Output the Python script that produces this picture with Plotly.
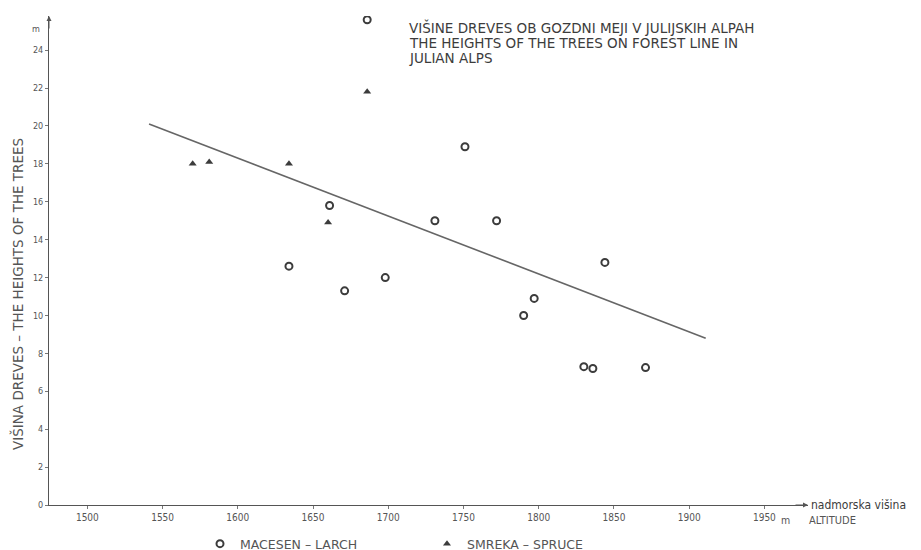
import plotly.graph_objects as go

# Larch (macesen) – altitude [m], height [m]
larch_alt = [1686, 1661, 1634, 1671, 1698, 1731, 1751, 1772, 1797, 1790, 1844, 1830, 1836, 1871]
larch_h = [25.6, 15.8, 12.6, 11.3, 12.0, 15.0, 18.9, 15.0, 10.9, 10.0, 12.8, 7.3, 7.2, 7.25]

# Spruce (smreka)
spruce_alt = [1570, 1581, 1634, 1660, 1686]
spruce_h = [18.0, 18.1, 18.0, 14.9, 21.8]

# Trend line endpoints
trend_alt = [1541, 1911]
trend_h = [20.1, 8.8]

x_ticks = [1500, 1550, 1600, 1650, 1700, 1750, 1800, 1850, 1900, 1950]
y_ticks = [0, 2, 4, 6, 8, 10, 12, 14, 16, 18, 20, 22, 24]

title_lines = ["VIŠINE DREVES OB GOZDNI MEJI V JULIJSKIH ALPAH",
               "THE HEIGHTS OF THE TREES ON FOREST LINE IN",
               "JULIAN ALPS"]

INK = "#3c3c3c"
GREY = "#555555"
FONT = "DejaVu Sans Condensed, DejaVu Sans, sans-serif"
WIDE = "DejaVu Sans, sans-serif"

OFF = 8  # page body margin of the html page
W, H = 921 - OFF, 550 - OFF
L, T = 49 - OFF, 16 - OFF
R, B = W - (808 - OFF), H - (505 - OFF)
PW, PH = W - L - R, H - T - B


def px_x(p):
    return (p - OFF - L) / PW


def px_y(p):
    return (H - B - (p - OFF)) / PH


fig = go.Figure()
fig.add_trace(go.Scatter(x=trend_alt, y=trend_h, mode="lines",
                         line=dict(color="#666666", width=1.6), showlegend=False,
                         hoverinfo="skip"))
fig.add_trace(go.Scatter(x=larch_alt, y=larch_h, mode="markers", name="MACESEN – LARCH",
                         marker=dict(symbol="circle-open", size=7, color=INK,
                                     line=dict(width=2, color=INK))))
fig.add_trace(go.Scatter(x=spruce_alt, y=spruce_h, mode="markers", name="SMREKA – SPRUCE",
                         marker=dict(symbol="triangle-up", size=7, color=INK)))

fig.update_layout(
    width=W, height=H,
    margin=dict(l=L, r=R, t=T, b=B, autoexpand=False),
    paper_bgcolor="white", plot_bgcolor="white",
    font=dict(family=FONT, color=INK, size=10),
    showlegend=True,
    legend=dict(orientation="h", xref="container", yref="container",
                x=(200 - OFF) / W, y=(550 - 544) / H, xanchor="left", yanchor="middle",
                entrywidth=182, entrywidthmode="pixels",
                font=dict(size=12.5, family=WIDE, color=GREY),
                bgcolor="rgba(0,0,0,0)"),
)
fig.update_xaxes(range=[1474.5, 1979], tickvals=x_ticks,
                 ticktext=[str(v) for v in x_ticks], automargin=False,
                 showgrid=False, zeroline=False, showline=True, linecolor=GREY,
                 linewidth=1, ticks="outside", ticklen=3, tickcolor="#777777",
                 tickfont=dict(size=10, color=GREY))
fig.update_yaxes(range=[0, 25.8], tickvals=y_ticks, automargin=False,
                 showgrid=False, zeroline=False, showline=True, linecolor=GREY,
                 linewidth=1, ticks="outside", ticklen=3, tickcolor="#777777",
                 tickfont=dict(size=9, color=GREY))

ann = []
# arrowheads on axes
ann.append(dict(xref="x domain", yref="y domain", x=0, y=1, ax=0, ay=14,
                showarrow=True, arrowhead=2, arrowsize=1, arrowwidth=1,
                arrowcolor=GREY, text=""))
ann.append(dict(xref="x domain", yref="y domain", x=1, y=0, ax=-14, ay=0,
                showarrow=True, arrowhead=2, arrowsize=1, arrowwidth=1,
                arrowcolor=GREY, text=""))
# title, one annotation per line
for i, line in enumerate(title_lines):
    ann.append(dict(xref="paper", yref="paper", x=px_x(407), y=px_y(27 + 15.7 * i),
                    xanchor="left", yanchor="middle", align="left", showarrow=False,
                    text=line, font=dict(size=13.5, color=INK, family=WIDE)))
# y title
ann.append(dict(xref="paper", yref="paper", x=px_x(17), y=px_y(294), xanchor="center",
                yanchor="middle", textangle=-90, showarrow=False,
                text="VIŠINA DREVES – THE HEIGHTS OF THE TREES",
                font=dict(size=13.5, color=GREY, family=WIDE)))
# unit on y axis
ann.append(dict(xref="paper", yref="paper", x=px_x(36), y=px_y(29), xanchor="center",
                yanchor="middle", showarrow=False, text="m",
                font=dict(size=9, color=GREY, family=FONT)))
# x labels
ann.append(dict(xref="paper", yref="paper", x=px_x(809), y=px_y(505), xanchor="left",
                yanchor="middle", showarrow=False, text="nadmorska višina",
                font=dict(size=12, color=INK, family=FONT)))
ann.append(dict(xref="paper", yref="paper", x=px_x(807), y=px_y(520), xanchor="left",
                yanchor="middle", showarrow=False, text="ALTITUDE",
                font=dict(size=11, color=GREY, family=FONT)))
ann.append(dict(xref="paper", yref="paper", x=px_x(779), y=px_y(520), xanchor="left",
                yanchor="middle", showarrow=False, text="m",
                font=dict(size=10.5, color=GREY, family=FONT)))
fig.update_layout(annotations=ann)

fig.write_html("out.html")
